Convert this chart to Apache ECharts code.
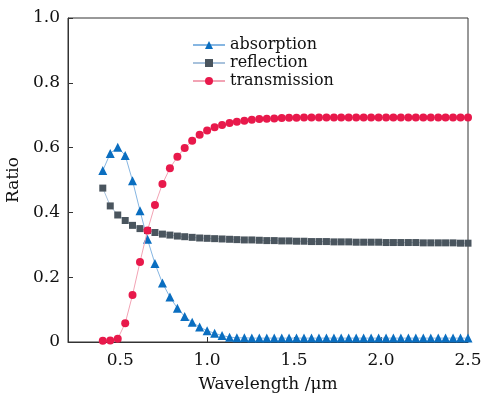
<!DOCTYPE html>
<html><head><meta charset="utf-8">
<script src="https://cdn.jsdelivr.net/npm/echarts@6/dist/echarts.min.js"></script>
<style>html,body{margin:0;padding:0;background:#fff}#c{width:483px;height:393px}</style>
</head><body><div id="c"></div>
<script>
const wavelength = [0.400,0.443,0.486,0.529,0.571,0.614,0.657,0.700,0.743,0.786,0.829,0.871,0.914,0.957,1.000,1.043,1.086,1.129,1.171,1.214,1.257,1.300,1.343,1.386,1.429,1.471,1.514,1.557,1.600,1.643,1.686,1.729,1.771,1.814,1.857,1.900,1.943,1.986,2.029,2.071,2.114,2.157,2.200,2.243,2.286,2.329,2.371,2.414,2.457,2.500];
const absorption = [0.529,0.582,0.601,0.576,0.498,0.405,0.317,0.242,0.182,0.139,0.104,0.079,0.061,0.046,0.035,0.027,0.020,0.015,0.013,0.013,0.012,0.012,0.012,0.012,0.012,0.012,0.012,0.012,0.012,0.012,0.012,0.012,0.012,0.012,0.012,0.012,0.012,0.012,0.012,0.012,0.012,0.012,0.012,0.012,0.012,0.012,0.012,0.012,0.012,0.012];
const reflection = [0.475,0.420,0.392,0.375,0.360,0.350,0.344,0.338,0.333,0.330,0.327,0.325,0.323,0.321,0.320,0.319,0.318,0.317,0.316,0.315,0.315,0.314,0.313,0.313,0.312,0.312,0.311,0.311,0.310,0.310,0.310,0.309,0.309,0.309,0.308,0.308,0.308,0.308,0.307,0.307,0.307,0.307,0.307,0.306,0.306,0.306,0.306,0.306,0.305,0.305];
const transmission = [0.004,0.005,0.010,0.058,0.145,0.247,0.344,0.423,0.488,0.536,0.572,0.599,0.621,0.640,0.653,0.663,0.670,0.676,0.680,0.683,0.686,0.688,0.689,0.690,0.691,0.692,0.692,0.693,0.693,0.693,0.693,0.693,0.693,0.693,0.693,0.693,0.693,0.693,0.693,0.693,0.693,0.693,0.693,0.693,0.693,0.693,0.693,0.693,0.693,0.693];
const xTicks = [0.5,1.0,1.5,2.0,2.5];
const seriesNames = ['absorption','reflection','transmission'];

const font = 'DejaVu Serif';
const pair = arr => wavelength.map((w,i)=>[w,arr[i]]);
const chart = echarts.init(document.getElementById('c'), null, {renderer:'canvas'});
chart.setOption({
  animation:false,
  backgroundColor:'#fff',
  grid:{left:68,right:15,top:18,bottom:51,outerBoundsMode:'none',containLabel:false,
        show:true,borderColor:'#333',borderWidth:1,backgroundColor:'transparent'},
  legend:{
    orient:'vertical',left:187,top:31,itemWidth:32,itemHeight:10,itemGap:0,
    textStyle:{fontFamily:font,fontSize:16,color:'#111',lineHeight:18},
    data:seriesNames
  },
  xAxis:{
    type:'value',min:0.2,max:2.5,
    name:'Wavelength /\u03bcm',nameLocation:'middle',nameGap:34,
    nameTextStyle:{fontFamily:font,fontSize:17,color:'#111'},
    axisLine:{show:true,lineStyle:{color:'#333',width:1}},
    axisTick:{show:true,inside:true,length:5,customValues:xTicks,lineStyle:{color:'#333'}},
    axisLabel:{customValues:xTicks,fontFamily:font,fontSize:17,color:'#111',margin:10,
      formatter:v=>v.toFixed(1)},
    splitLine:{show:false}
  },
  yAxis:{
    type:'value',min:0,max:1,interval:0.2,
    name:'Ratio',nameLocation:'middle',nameGap:40,
    nameTextStyle:{fontFamily:font,fontSize:17,color:'#111'},
    axisLine:{show:true,lineStyle:{color:'#333',width:1}},
    axisTick:{show:true,inside:true,length:5,lineStyle:{color:'#333'}},
    axisLabel:{fontFamily:font,fontSize:17,color:'#111',margin:8,
      formatter:v=>v===0?'0':v.toFixed(1)},
    splitLine:{show:false}
  },
  series:[
    {name:seriesNames[0],type:'line',data:pair(absorption),symbol:'triangle',symbolSize:9,
     itemStyle:{color:'#0A6EC0'},lineStyle:{color:'#86b6e2',width:1},z:3},
    {name:seriesNames[1],type:'line',data:pair(reflection),symbol:'rect',symbolSize:7,
     itemStyle:{color:'#4A555E'},lineStyle:{color:'#a8c2dc',width:1},z:2},
    {name:seriesNames[2],type:'line',data:pair(transmission),symbol:'circle',symbolSize:8,
     itemStyle:{color:'#E8194B'},lineStyle:{color:'#f2a3b4',width:1},z:4}
  ]
});
</script></body></html>
